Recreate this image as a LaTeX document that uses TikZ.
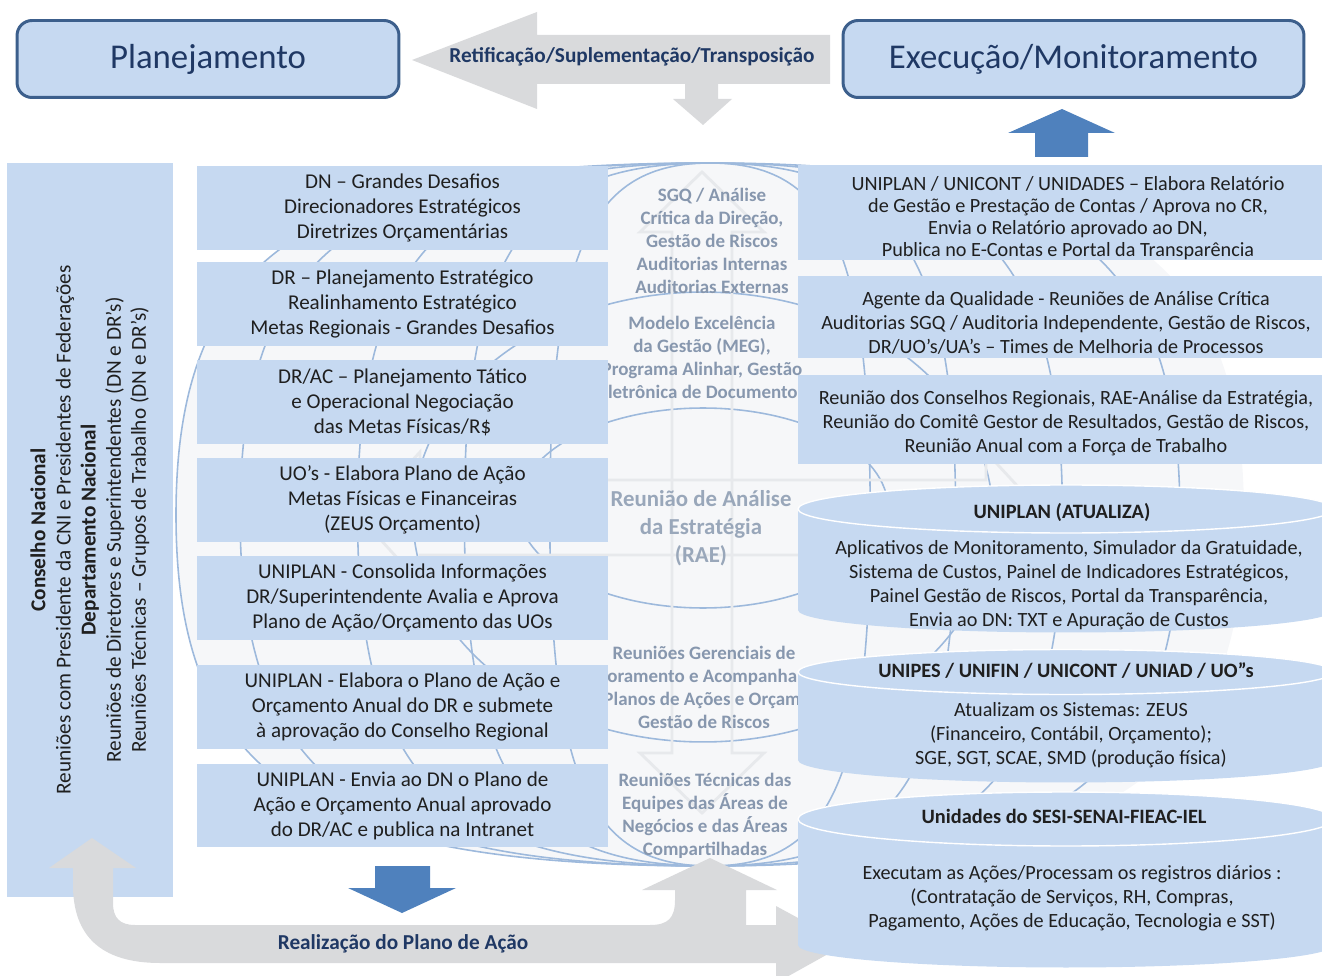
\documentclass[tikz,border=0pt]{standalone}
\usepackage{fontspec}
\setmainfont{Carlito}
\usetikzlibrary{positioning}

\definecolor{boxblue}{HTML}{C6D9F1}
\definecolor{framblue}{HTML}{3C5F8C}
\definecolor{navy}{HTML}{1F3864}
\definecolor{arrowgray}{HTML}{D9DADC}
\definecolor{solidblue}{HTML}{4F81BD}
\definecolor{globefill}{HTML}{F6F7F9}
\definecolor{lineblue}{HTML}{9DB9DC}
\definecolor{fadetext}{HTML}{8797AE}
\definecolor{fadegray}{HTML}{E7E9EC}

\tikzset{
  headbox/.style = {rectangle, rounded corners=0.3cm, draw=framblue, line width=1.7pt,
    fill=boxblue, text=navy, inner sep=0pt, font=\fontsize{19.8}{22}\selectfont},
  plan_b/.style = {rectangle, fill=boxblue, inner sep=0pt, align=center,
    minimum width=8.22cm, minimum height=1.68cm, text=black!88,
    font=\fontsize{12}{14.2}\selectfont},% caixas do planejamento
  exec_b/.style = {rectangle, fill=boxblue, inner sep=0pt, minimum width=10.72cm},% caixas da execucao
  exec_t/.style = {align=center, text=black!88, font=\fontsize{11.5}{13.7}\selectfont},
  cyl_t/.style = {align=center, text=black!88, font=\fontsize{11.5}{13.7}\selectfont},
  glob_t/.style = {align=center, text=fadetext, font=\bfseries\fontsize{10.8}{13.1}\selectfont},
  banner/.style = {text=navy, font=\bfseries\fontsize{12.1}{14}\selectfont},
  meridian/.style = {lineblue, line width=0.9pt}
}

\begin{document}
\begin{tikzpicture}[x=0.02cm, y=-0.02cm]
\useasboundingbox (0,0) rectangle (1322,976);
\clip (0,0) rectangle (1322,976);

% globo ao fundo
\fill[globefill] (710,163) .. controls (310,163) and (176,251) .. (176,515)
  .. controls (176,779) and (310,866) .. (710,866)
  .. controls (1110,866) and (1244,779) .. (1244,515)
  .. controls (1244,251) and (1110,163) .. (710,163) -- cycle;
\draw[meridian] (710,163) .. controls (310,163) and (176,251) .. (176,515)
  .. controls (176,779) and (310,866) .. (710,866);
\foreach \s in {0.88,0.66,0.46,0.3}{
  \draw[meridian] (710,163) .. controls ({710-400*\s},163) and ({710-534*\s},251) .. ({710-534*\s},515)
    .. controls ({710-534*\s},779) and ({710-400*\s},866) .. (710,866);
  \draw[meridian] (710,163) .. controls ({710+400*\s},163) and ({710+534*\s},251) .. ({710+534*\s},515)
    .. controls ({710+534*\s},779) and ({710+400*\s},866) .. (710,866);
}
\draw[meridian] (703,508) ellipse [x radius=3.7cm, y radius=2cm];
\draw[meridian] (703,517) ellipse [x radius=5.8cm, y radius=4.5cm];

% setas cruzadas apagadas
\draw[fadegray, line width=1.6pt] (672,232) -- (672,753) -- (640,753) -- (702,813) -- (764,753)
  -- (732,753) -- (732,232) -- (764,232) -- (702,172) -- (640,232) -- cycle;
\draw[fadegray, line width=1.6pt] (420,480) -- (986,480) -- (986,452) -- (1046,517) -- (986,583)
  -- (986,555) -- (420,555) -- (420,583) -- (360,517) -- (420,452) -- cycle;

\node[glob_t] (sgq) at (712,241) {SGQ / Análise\\Crítica da Direção,\\Gestão de Riscos\\Auditorias Internas\\Auditorias Externas};
\node[glob_t] (meg) at (702,357) {Modelo  Excelência\\da Gestão (MEG),\\Programa Alinhar, Gestão\\Eletrônica de Documentos};
\node[glob_t, text=fadetext!85, font=\bfseries\fontsize{13}{16}\selectfont] (rae) at (701,528)
  {Reunião de Análise\\da Estratégia\\(RAE)};
\node[glob_t] (ger) at (704,687) {Reuniões Gerenciais de\\Monitoramento e Acompanhamento\\dos Planos de Ações e Orçamento\\Gestão de Riscos};
\node[glob_t] (tec) at (705,816) {Reuniões Técnicas das\\Equipes das Áreas de\\Negócios e das Áreas\\Compartilhadas};

% coluna da esquerda
\node[rectangle, fill=boxblue, inner sep=0pt, rotate=90, align=center,
  minimum width=14.68cm, minimum height=3.32cm, text=black!88,
  font=\fontsize{12.1}{14.3}\selectfont] (cn) at (90,530)
  {\textbf{Conselho Nacional}\\Reuniões com Presidente da CNI e Presidentes de Federações\\
   \textbf{Departamento Nacional}\\Reuniões de Diretores e Superintendentes (DN e DR’s)\\
   Reuniões Técnicas – Grupos de Trabalho (DN e DR’s)};

\node[plan_b] (p1) at (402.5,208) {DN – Grandes  Desafios\\Direcionadores Estratégicos\\Diretrizes Orçamentárias};
\node[plan_b] (p2) at (402.5,304) {DR – Planejamento Estratégico\\Realinhamento Estratégico\\Metas Regionais - Grandes Desafios};
\node[plan_b] (p3) at (402.5,402) {DR/AC – Planejamento Tático\\e Operacional  Negociação\\das Metas Físicas/R\$};
\node[plan_b] (p4) at (402.5,500) {UO’s - Elabora Plano de Ação\\Metas Físicas e Financeiras\\(ZEUS Orçamento)};
\node[plan_b] (p5) at (402.5,598) {UNIPLAN  - Consolida Informações\\DR/Superintendente Avalia e Aprova\\Plano de Ação/Orçamento das UOs};
\node[plan_b] (p6) at (402.5,707) {UNIPLAN - Elabora o Plano de Ação e\\Orçamento Anual do DR e submete\\à aprovação do  Conselho Regional};
\node[plan_b] (p7) at (402.5,805.5) {UNIPLAN - Envia ao DN o Plano de\\Ação e Orçamento Anual aprovado\\do DR/AC e publica na Intranet};

% seta em U da realizacao
\fill[arrowgray] (92,838) -- (136,868) -- (113,868) -- (113,903) .. controls (113,918) and (120,925) .. (135,925)
  -- (650,925) .. controls (668,925) and (675,918) .. (675,900) -- (675,890) -- (642,890) -- (710,858)
  -- (777,890) -- (746,890) -- (746,925) -- (776,925) -- (776,906) -- (846,944) -- (776,983)
  -- (776,963) -- (160,963) .. controls (100,963) and (73,935) .. (73,885) -- (73,868) -- (49,868) -- cycle;
\node[banner] (real) at (403,944) {Realização do Plano de Ação};

% coluna da direita
\node[exec_b, minimum height=1.9cm] (e1) at (1066,212.5) {};
\node[exec_t, font=\fontsize{11.5}{12.6}\selectfont] (e1t) at (1068,218)
  {UNIPLAN / UNICONT / UNIDADES – Elabora Relatório\\de Gestão e Prestação de Contas / Aprova no CR,\\Envia o Relatório aprovado ao DN,\\Publica no E-Contas e Portal da Transparência};
\node[exec_b, minimum height=1.64cm] (e2) at (1066,317) {};
\node[exec_t] (e2t) at (1066,322.5)
  {Agente da Qualidade - Reuniões de Análise Crítica\\Auditorias SGQ / Auditoria Independente, Gestão de Riscos,\\DR/UO’s/UA’s – Times de Melhoria de Processos};
\node[exec_b, minimum height=1.78cm] (e3) at (1066,419.5) {};
\node[exec_t] (e3t) at (1066,423)
  {Reunião dos Conselhos Regionais, RAE-Análise da Estratégia,\\Reunião do Comitê Gestor de Resultados,  Gestão de Riscos,\\Reunião Anual com a Força de Trabalho};

% cilindros
\foreach \ytop/\ybot/\ry in {509/610/0.48, 672/760/0.45, 819/945/0.54}{
  \fill[boxblue] (798,\ytop) -- (798,\ybot) arc[start angle=180, end angle=360, x radius=5.36cm, y radius=0.45cm]
    -- (1334,\ytop) arc[start angle=0, end angle=180, x radius=5.36cm, y radius=\ry cm] -- cycle;
  \draw[white, line width=0.8pt] (1066,\ytop) ellipse [x radius=5.36cm, y radius=\ry cm];
}
\node[cyl_t, font=\bfseries\fontsize{11.6}{13}\selectfont] (c1h) at (1062,512) {UNIPLAN (ATUALIZA)};
\node[cyl_t] (c1) at (1069,585) {Aplicativos de Monitoramento, Simulador da Gratuidade,\\Sistema de Custos, Painel de Indicadores Estratégicos,\\Painel Gestão de Riscos, Portal da Transparência,\\Envia ao DN: TXT e Apuração de Custos};
\node[cyl_t, font=\bfseries\fontsize{11.6}{13}\selectfont] (c2h) at (1066,671) {UNIPES / UNIFIN / UNICONT /  UNIAD / UO”s};
\node[cyl_t] (c2) at (1071,735) {Atualizam os Sistemas: ZEUS\\(Financeiro, Contábil, Orçamento);\\SGE, SGT, SCAE, SMD (produção física)};
\node[cyl_t, font=\bfseries\fontsize{11.6}{13}\selectfont] (c3h) at (1064,816) {Unidades do SESI-SENAI-FIEAC-IEL};
\node[cyl_t] (c3) at (1072,898) {Executam as Ações/Processam os registros  diários :\\(Contratação de Serviços, RH, Compras,\\Pagamento, Ações de Educação, Tecnologia e SST)};

% seta de retificacao
\fill[arrowgray] (412,60) -- (537,12) -- (537,35) -- (830,35) -- (830,84) -- (718,84) -- (718,99)
  -- (732,99) -- (703,125) -- (673,99) -- (685,99) -- (685,84) -- (537,84) -- (537,109) -- cycle;
\node[banner] (ret) at (632,57) {Retificação/Suplementação/Transposição};

% setas azuis
\fill[solidblue] (375,866) -- (430,866) -- (430,888) -- (456,888) -- (402,913) -- (348,888) -- (375,888) -- cycle;
\fill[solidblue] (1035,157) -- (1088,157) -- (1088,133) -- (1115,133) -- (1062,109) -- (1008,133) -- (1035,133) -- cycle;

% titulos
\node[headbox, minimum width=7.64cm, minimum height=1.54cm] (plan) at (208,59) {Planejamento};
\node[headbox, minimum width=9.22cm, minimum height=1.54cm] (exec) at (1073.5,59) {Execução/Monitoramento};
\end{tikzpicture}
\end{document}
